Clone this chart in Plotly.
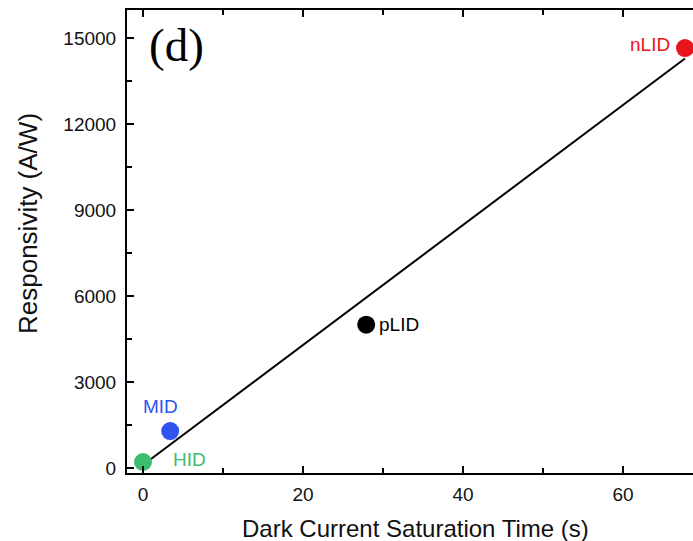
import plotly.graph_objects as go

# Data
names = ["HID", "MID", "pLID", "nLID"]
sat_time = [0.0, 3.4, 27.9, 67.75]
responsivity = [210, 1290, 5000, 14650]
colors = ["#3dbd6f", "#2f52f0", "#000000", "#e8141c"]

fit_x = [0.0, 67.75]
fit_y = [105, 14285]

x_ticks = [0, 20, 40, 60]
x_labels = ["0", "20", "40", "60"]
y_ticks = [0, 3000, 6000, 9000, 12000, 15000]
y_labels = ["0", "3000", "6000", "9000", "12000", "15000"]

x_title = "Dark Current Saturation Time (s)"
y_title = "Responsivity (A/W)"

fig = go.Figure()
fig.add_trace(go.Scatter(x=fit_x, y=fit_y, mode="lines",
                         line=dict(color="black", width=2), showlegend=False, hoverinfo="skip"))
fig.add_trace(go.Scatter(x=sat_time, y=responsivity, mode="markers",
                         marker=dict(color=colors, size=18, line=dict(width=0)),
                         showlegend=False))

label_pos = {
    "HID": dict(xanchor="left", yanchor="middle", xshift=28, yshift=2),
    "MID": dict(xanchor="center", yanchor="bottom", xshift=-10, yshift=12),
    "pLID": dict(xanchor="left", yanchor="middle", xshift=11, yshift=0),
    "nLID": dict(xanchor="right", yanchor="middle", xshift=-13, yshift=4),
}
for n, xv, yv, c in zip(names, sat_time, responsivity, colors):
    fig.add_annotation(x=xv, y=yv, xref="x", yref="y", text=n, showarrow=False,
                       font=dict(family="Liberation Sans, Arial", size=19, color=c),
                       **label_pos[n])

fig.add_annotation(xref="paper", yref="paper", x=0.035, y=0.985, text="(d)",
                   showarrow=False, xanchor="left", yanchor="top",
                   font=dict(family="Liberation Serif, Times New Roman", size=47, color="black"))

# axis titles placed as annotations (plot area: 127..693 x, 10..473 y)
fig.add_annotation(xref="paper", yref="paper", x=(415 - 127) / 566, y=(473 - 528) / 463,
                   text=x_title, showarrow=False, xanchor="center", yanchor="middle",
                   font=dict(family="Liberation Sans, Arial", size=24, color="#111"))
fig.add_annotation(xref="paper", yref="paper", x=(28 - 127) / 566, y=(473 - 224) / 463,
                   text=y_title, showarrow=False, xanchor="center", yanchor="middle",
                   textangle=-90,
                   font=dict(family="Liberation Sans, Arial", size=26, color="#111"))

axis_common = dict(showline=True, linecolor="black", linewidth=2, ticks="inside",
                   tickcolor="black", tickwidth=2, ticklen=7, showgrid=False, zeroline=False,
                   tickfont=dict(family="Liberation Sans, Arial", size=19, color="#111"))

fig.update_xaxes(range=[-2, 68.75], tickvals=x_ticks, ticktext=x_labels, mirror="ticks",
                 ticklabelstandoff=3,
                 minor=dict(dtick=10, ticks="inside", ticklen=5, tickwidth=2, tickcolor="black"),
                 **axis_common)
fig.update_yaxes(range=[-174, 15977], tickvals=y_ticks, ticktext=y_labels, mirror=False,
                 ticklabelstandoff=5,
                 minor=dict(dtick=1500, ticks="inside", ticklen=5, tickwidth=2, tickcolor="black"),
                 **axis_common)

fig.update_layout(width=693, height=541, margin=dict(l=127, r=0, t=10, b=68),
                  plot_bgcolor="white", paper_bgcolor="white")

fig.write_html("out.html")
